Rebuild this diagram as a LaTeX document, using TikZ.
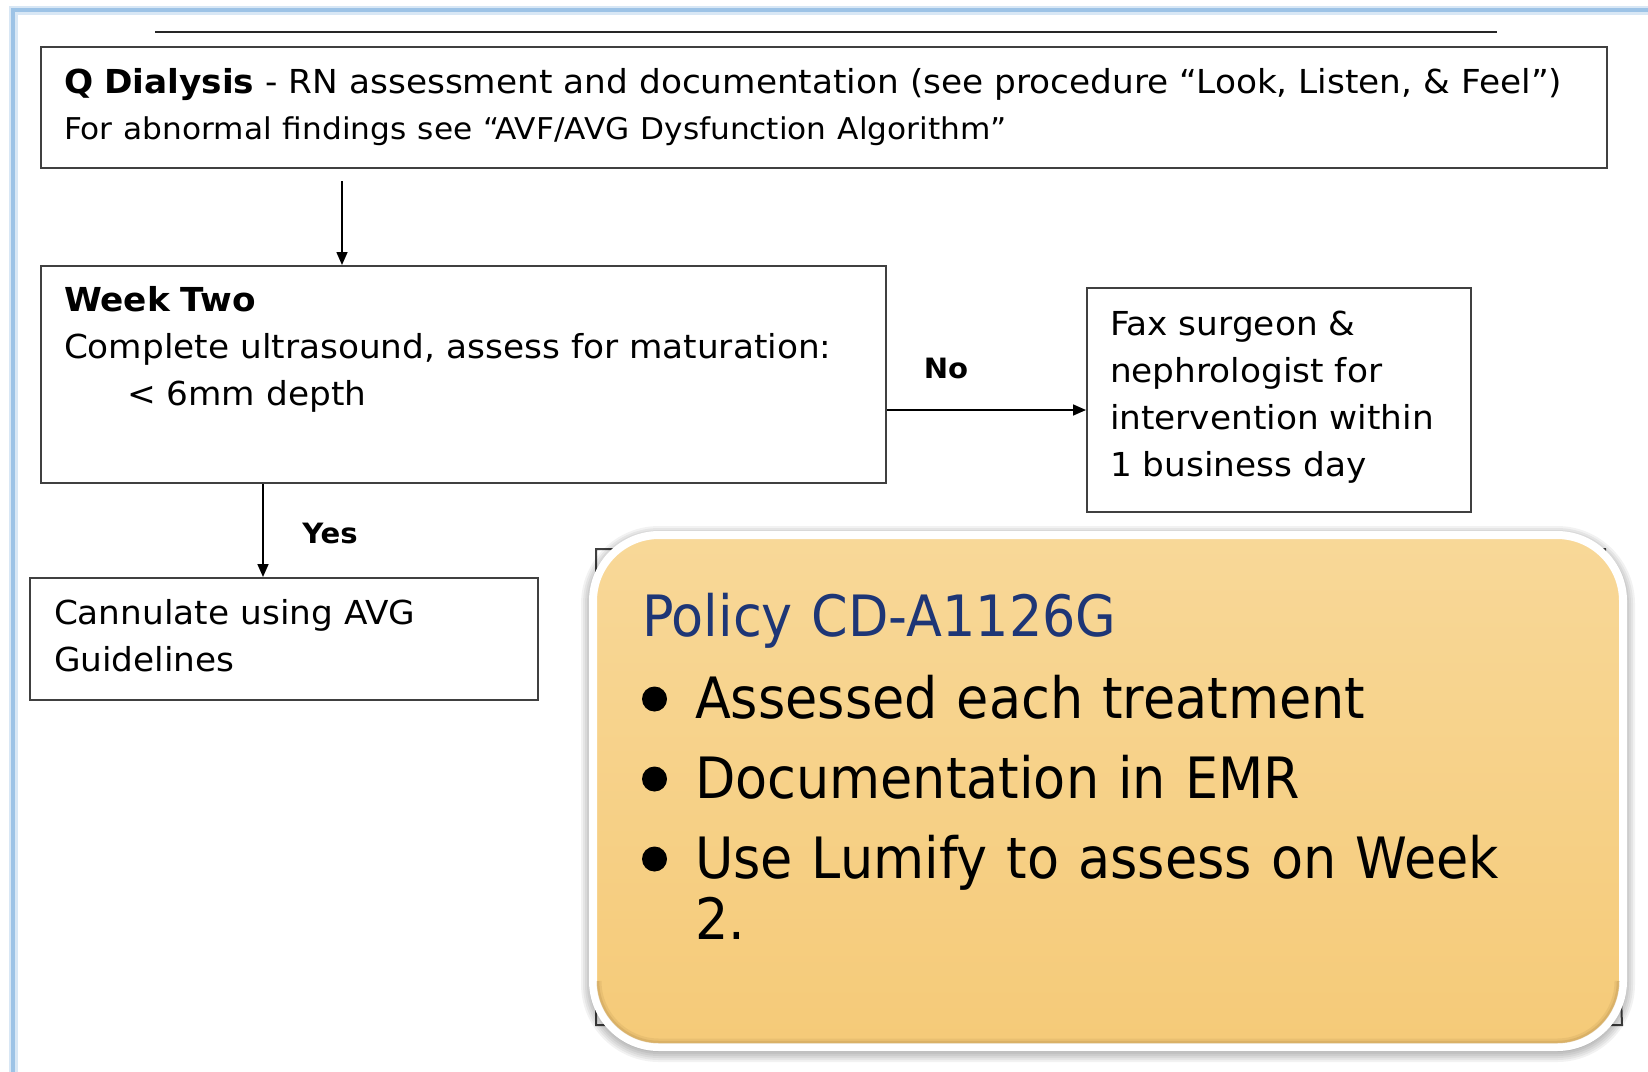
\documentclass[tikz,border=0pt]{standalone}
\usepackage{fontspec}
\setmainfont{DejaVu Sans}[FakeStretch=1.04]
\newfontfamily\polfont{DejaVu Sans}[FakeStretch=0.92]
\usetikzlibrary{arrows.meta,backgrounds}
\definecolor{framblue}{RGB}{157,195,230}
\definecolor{boxgray}{RGB}{64,64,64}
\definecolor{policyblue}{RGB}{30,54,118}
\definecolor{policytop}{RGB}{248,216,152}
\definecolor{policybottom}{RGB}{245,202,120}
\definecolor{policyrim}{RGB}{200,160,90}
\newcommand{\polbul}{\makebox[53pt][l]{\tikz[baseline=0pt]\fill[black] (14pt,19pt) circle [radius=12.5pt];}}

\begin{document}
\begin{tikzpicture}[
    x=1pt, y=-1pt,
    box/.style={draw=boxgray, line width=2pt, anchor=north west, inner ysep=0pt, inner xsep=23pt, align=left, font=\fontsize{33}{47}\selectfont},
    lbl/.style={font=\bfseries\fontsize{28}{32}\selectfont},
    arrow/.style={-{Triangle[length=13pt,width=11pt]}, line width=1.6pt, black},
    policy/.style={anchor=north west, draw=white, line width=8pt, outer sep=0pt, rounded corners=66pt, top color=policytop, bottom color=policybottom, minimum width=1030pt, minimum height=512pt, inner ysep=0pt, inner xsep=49pt, text width=932pt, text height=101pt, text depth=411pt, align=left, font=\polfont\fontsize{57}{61}\selectfont}
  ]
    \useasboundingbox (0,0) rectangle (1648,1071);

    % frame and rule
    \draw[framblue!40, line width=9pt] (13,1090) -- (13,10) -- (1670,10);
    \draw[framblue, line width=4pt] (13,1090) -- (13,10) -- (1670,10);
    \draw[black!85, line width=2pt] (155,32) -- (1497,32);

    \node[box, text width=1520pt, text height=46pt, text depth=75pt] (qdial) at (40,46) {\textbf{Q Dialysis} - RN assessment and documentation (see procedure “Look, Listen, \& Feel”)\\[-1pt]{\fontsize{30}{47}\selectfont For abnormal findings see “AVF/AVG Dysfunction Algorithm”}};
    \node[box, text width=799pt, text height=45pt, text depth=172pt] (week) at (40,265) {\textbf{Week Two}\\Complete ultrasound, assess for maturation:\\\hspace*{63pt}< 6mm depth};
    \node[box, text width=338pt, text height=47pt, text depth=177pt] (fax) at (1086,287) {Fax surgeon \&\\nephrologist for\\intervention within\\1 business day};
    \node[box, inner xsep=24pt, text width=460pt, text height=46pt, text depth=76pt] (cann) at (29,577) {Cannulate using AVG\\Guidelines};

    \node[lbl] (nolbl) at (946,368) {No};
    \node[lbl] (yeslbl) at (330,533) {Yes};

    \coordinate (nolvl) at (0,410);
    \coordinate (yescol) at (263,0);
    \draw[arrow] ([xshift=302pt,yshift=-12pt]qdial.south west) -- ([xshift=302pt]week.north west);
    \draw[arrow] (week.east |- nolvl) -- (fax.west |- nolvl);
    \draw[arrow] (week.south -| yescol) -- (cann.north -| yescol);

    % policy callout
    \node[policy] (policy) at (593,535) {{\color{policyblue}Policy CD-A1126G}\\[21pt]
      \polbul Assessed each treatment\\[19pt]
      \polbul Documentation in EMR\\[19pt]
      \polbul Use Lumify to assess on Week\\
      \hspace*{53pt}2.};
    \draw[policyrim, opacity=0.25, line width=5pt, rounded corners=60pt] ([xshift=6pt,yshift=66pt]policy.south west) -- ([xshift=6pt,yshift=6pt]policy.south west) -- ([xshift=-6pt,yshift=6pt]policy.south east) -- ([xshift=-6pt,yshift=66pt]policy.south east);
    \draw[policyrim, opacity=0.45, line width=2.5pt, rounded corners=61pt] ([xshift=5pt,yshift=66pt]policy.south west) -- ([xshift=5pt,yshift=5pt]policy.south west) -- ([xshift=-5pt,yshift=5pt]policy.south east) -- ([xshift=-5pt,yshift=66pt]policy.south east);

    \begin{scope}[on background layer]
      \fill[white] (0,0) rectangle (1648,1071);
      \draw[boxgray, line width=2pt] (596,549) -- (1605,549) -- (1622,1025) -- (596,1025) -- cycle;
      \foreach \w in {4,8,12,16,20,24}
        \draw[black, opacity=0.05, line width=\w pt, rounded corners=66pt] ([yshift=-3pt]policy.north west) rectangle ([yshift=-3pt]policy.south east);
    \end{scope}
\end{tikzpicture}
\end{document}
